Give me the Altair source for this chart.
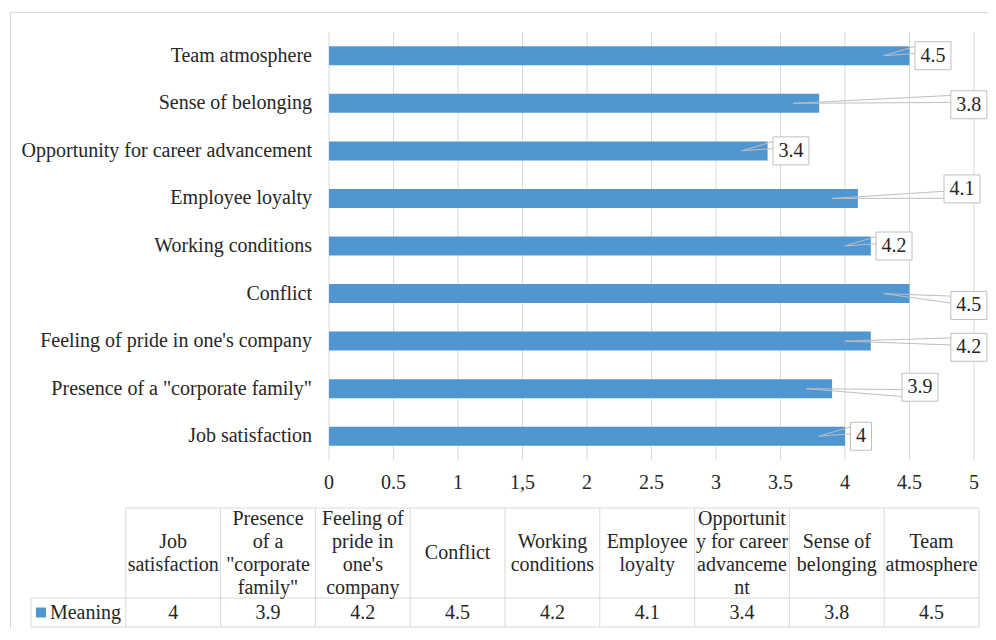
import altair as alt
import pandas as pd

# ---------------- data ----------------
categories = [
    "Job satisfaction",
    'Presence of a "corporate family"',
    "Feeling of pride in one's company",
    "Conflict",
    "Working conditions",
    "Employee loyalty",
    "Opportunity for career advancement",
    "Sense of belonging",
    "Team atmosphere",
]
values = [4, 3.9, 4.2, 4.5, 4.2, 4.1, 3.4, 3.8, 4.5]
series_name = "Meaning"
table_headers = [
    "Job\nsatisfaction",
    'Presence\nof a\n"corporate\nfamily"',
    "Feeling of\npride in\none's\ncompany",
    "Conflict",
    "Working\nconditions",
    "Employee\nloyalty",
    "Opportunit\ny for career\nadvanceme\nnt",
    "Sense of\nbelonging",
    "Team\natmosphere",
]
x_ticks = [0, 0.5, 1, 1.5, 2, 2.5, 3, 3.5, 4, 4.5, 5]
x_tick_labels = ["0", "0.5", "1", "1,5", "2", "2.5", "3", "3.5", "4", "4.5", "5"]
# data-callout placement (value units, row offset) as moved by hand in the source
callout_x = [4.124, 4.581, 4.96, 4.96, 4.380, 4.907, 3.581, 4.96, 4.682]
callout_dy = [0, -0.03, 0.13, 0.25, 0, -0.2, 0, 0.03, 0]

# ---------------- style ----------------
FONT = "Liberation Serif"
FS = 20
TXT = "#262626"
BAR = "#5097D2"
GRID = "#d9d9d9"
CALL = "#bfbfbf"

W, H = 978, 617
XR = [319, 964]          # plot range for 0..5
YR = [20, 448]           # plot range for 9 rows
PX_PER_UNIT = (XR[1] - XR[0]) / 5
PX_PER_ROW = (YR[1] - YR[0]) / 9

XS = alt.Scale(domain=[0, 5], range=XR, nice=False, zero=False)
YS = alt.Scale(domain=[0, 9], range=YR, nice=False, zero=False)

n = len(categories)
rows = []
for j, (c, v) in enumerate(zip(categories, values)):
    r = n - 1 - j
    rc = r + 0.5
    lab = f"{v:g}"
    cx = callout_x[j]
    cy = rc + callout_dy[j]
    hh = 14 / PX_PER_ROW
    tw = sum(10 if ch.isdigit() else 5 for ch in lab)
    hw = (tw + 11) / 2 / PX_PER_UNIT
    top = cy - hh
    h = 2 * hh
    if rc > cy + 1e-9:
        wa, wb = top + h * 7 / 12, top + h * 10 / 12
    else:
        wa, wb = top + h * 2 / 12, top + h * 5 / 12
    rows.append(dict(cat=c, v=v, v0=0, r0=r + 0.3, r1=r + 0.7, rc=rc, lab=lab,
                     cx=cx, cy=cy, bx0=cx - hw, bx1=cx + hw, by0=top, by1=cy + hh,
                     tipx=v - 26 / PX_PER_UNIT, wa=wa, wb=wb))
df = pd.DataFrame(rows)
ticks_df = pd.DataFrame({"t": x_ticks, "lab": x_tick_labels})

txt = dict(font=FONT, fontSize=FS, color=TXT)

grid = alt.Chart(ticks_df).mark_rule(color=GRID, strokeWidth=1).encode(
    x=alt.X("t:Q", scale=XS, axis=None), y=alt.value(YR[0]), y2=alt.value(YR[1]))
bars = alt.Chart(df).mark_rect(color=BAR).encode(
    x=alt.X("v0:Q", scale=XS, axis=None), x2="v:Q",
    y=alt.Y("r0:Q", scale=YS, axis=None), y2="r1:Q")
cat_labels = alt.Chart(df).mark_text(align="right", baseline="middle", **txt).encode(
    x=alt.value(302), y=alt.Y("rc:Q", scale=YS, axis=None), text="cat:N")
tick_labels = alt.Chart(ticks_df).mark_text(align="center", baseline="middle", **txt).encode(
    x=alt.X("t:Q", scale=XS, axis=None), y=alt.value(471), text="lab:N")
wedge_a = alt.Chart(df).mark_rule(color=CALL, strokeWidth=1).encode(
    x=alt.X("tipx:Q", scale=XS, axis=None), y=alt.Y("rc:Q", scale=YS, axis=None),
    x2="bx0:Q", y2="wa:Q")
wedge_b = alt.Chart(df).mark_rule(color=CALL, strokeWidth=1).encode(
    x=alt.X("tipx:Q", scale=XS, axis=None), y=alt.Y("rc:Q", scale=YS, axis=None),
    x2="bx0:Q", y2="wb:Q")
boxes = alt.Chart(df).mark_rect(fill="white", stroke=CALL, strokeWidth=1).encode(
    x=alt.X("bx0:Q", scale=XS, axis=None), x2="bx1:Q",
    y=alt.Y("by0:Q", scale=YS, axis=None), y2="by1:Q")
call_text = alt.Chart(df).mark_text(align="center", baseline="middle", **txt).encode(
    x=alt.X("cx:Q", scale=XS, axis=None), y=alt.Y("cy:Q", scale=YS, axis=None), text="lab:N")

main = alt.layer(grid, bars, cat_labels, tick_labels, wedge_a, wedge_b, boxes, call_text)

# ---------------- data table ----------------
TX = alt.Scale(domain=[-1, 9], range=[21, 969], nice=False, zero=False)
T_TOP, T_MID, T_BOT = 496, 586, 615
LINE_H = 23
HC = (T_TOP + T_MID) / 2
TY = alt.Scale(domain=[-1, 1], range=[HC - LINE_H, HC + LINE_H], nice=False, zero=False)

head_rows = []
for k, hdr in enumerate(table_headers):
    parts = hdr.split("\n")
    m = len(parts)
    for li, p in enumerate(parts):
        head_rows.append(dict(c=k + 0.5, ly=li - (m - 1) / 2, t=p))
head_df = pd.DataFrame(head_rows)
tab_df = pd.DataFrame({
    "c": [k + 0.5 for k in range(n)],
    "val": [f"{v:g}" for v in values],
})
vl_df = pd.DataFrame({"k": list(range(n + 1))})
hl_df = pd.DataFrame({"a": [0, -1, -1], "b": [n, n, n], "which": ["top", "mid", "bot"]})
leg_df = pd.DataFrame({"sx": [-0.895], "tx": [-0.80], "name": [series_name]})

tline = dict(color=GRID, strokeWidth=1)
vlines = alt.Chart(vl_df).mark_rule(**tline).encode(
    x=alt.X("k:Q", scale=TX, axis=None), y=alt.value(T_TOP), y2=alt.value(T_BOT))
vleft = alt.Chart(pd.DataFrame({"k": [-1]})).mark_rule(**tline).encode(
    x=alt.X("k:Q", scale=TX, axis=None), y=alt.value(T_MID), y2=alt.value(T_BOT))
hl_top = alt.Chart(hl_df[hl_df.which == "top"]).mark_rule(**tline).encode(
    x=alt.X("a:Q", scale=TX, axis=None), x2="b:Q", y=alt.value(T_TOP))
hl_mid = alt.Chart(hl_df[hl_df.which == "mid"]).mark_rule(**tline).encode(
    x=alt.X("a:Q", scale=TX, axis=None), x2="b:Q", y=alt.value(T_MID))
hl_bot = alt.Chart(hl_df[hl_df.which == "bot"]).mark_rule(**tline).encode(
    x=alt.X("a:Q", scale=TX, axis=None), x2="b:Q", y=alt.value(T_BOT))
head_text = alt.Chart(head_df).mark_text(align="center", baseline="middle", **txt).encode(
    x=alt.X("c:Q", scale=TX, axis=None), y=alt.Y("ly:Q", scale=TY, axis=None), text="t:N")
val_text = alt.Chart(tab_df).mark_text(align="center", baseline="middle", **txt).encode(
    x=alt.X("c:Q", scale=TX, axis=None), y=alt.value((T_MID + T_BOT) / 2), text="val:N")
leg_sq = alt.Chart(leg_df).mark_square(size=100, color=BAR, opacity=1, filled=True).encode(
    x=alt.X("sx:Q", scale=TX, axis=None), y=alt.value((T_MID + T_BOT) / 2))
leg_txt = alt.Chart(leg_df).mark_text(align="left", baseline="middle", **txt).encode(
    x=alt.X("tx:Q", scale=TX, axis=None), y=alt.value((T_MID + T_BOT) / 2), text="name:N")

table = alt.layer(vlines, vleft, hl_top, hl_mid, hl_bot, head_text, val_text, leg_sq, leg_txt)

# ---------------- outer frame ----------------
one = pd.DataFrame({"a": [0]})
frame_l = alt.Chart(one).mark_rule(color=GRID, strokeWidth=1).encode(
    x=alt.value(0.5), y=alt.value(0), y2=alt.value(H))
frame_t = alt.Chart(one).mark_rule(color=GRID, strokeWidth=1).encode(
    y=alt.value(0.5), x=alt.value(0), x2=alt.value(W))
frame = alt.layer(frame_l, frame_t)

chart = alt.layer(main, table, frame).resolve_scale(
    x="independent", y="independent"
).properties(
    width=W, height=H,
    padding={"left": 2, "top": 4, "right": 0, "bottom": 0},
    autosize=alt.AutoSizeParams(type="none"),
    background="white",
).configure_view(stroke=None)

chart.save("out.html", embed_options={"renderer": "svg", "actions": False})
